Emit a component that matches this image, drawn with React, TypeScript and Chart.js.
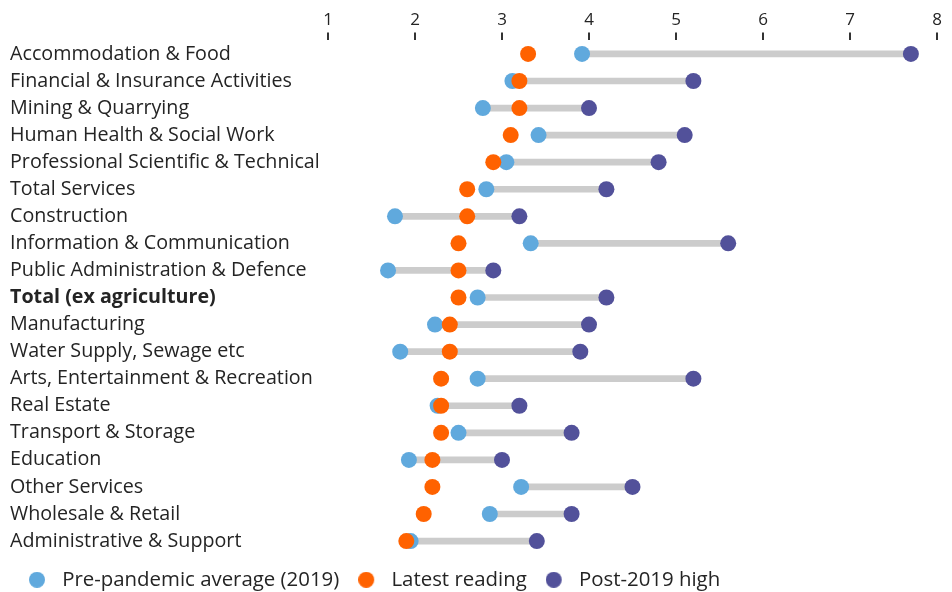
import React, { useEffect, useRef } from "react";
import { Chart, registerables } from "chart.js";

Chart.register(...registerables);

// Sectors, ordered by latest reading
const categories = [
  "Accommodation & Food",
  "Financial & Insurance Activities",
  "Mining & Quarrying",
  "Human Health & Social Work",
  "Professional Scientific & Technical",
  "Total Services",
  "Construction",
  "Information & Communication",
  "Public Administration & Defence",
  "Total (ex agriculture)",
  "Manufacturing",
  "Water Supply, Sewage etc",
  "Arts, Entertainment & Recreation",
  "Real Estate",
  "Transport & Storage",
  "Education",
  "Other Services",
  "Wholesale & Retail",
  "Administrative & Support",
];

const preAverage = [
  3.92, 3.12, 2.78, 3.42, 3.05, 2.82, 1.77, 3.33, 1.69, 2.72, 2.23, 1.83, 2.72,
  2.26, 2.5, 1.93, 3.22, 2.86, 1.95,
];

const latestReading = [
  3.3, 3.2, 3.2, 3.1, 2.9, 2.6, 2.6, 2.5, 2.5, 2.5, 2.4, 2.4, 2.3, 2.3, 2.3,
  2.2, 2.2, 2.1, 1.9,
];

const postHigh = [
  7.7, 5.2, 4.0, 5.1, 4.8, 4.2, 3.2, 5.6, 2.9, 4.2, 4.0, 3.9, 5.2, 3.2, 3.8,
  3.0, 4.5, 3.8, 3.4,
];

const seriesNames = ["Pre-pandemic average (2019)", "Latest reading", "Post-2019 high"];
const boldCategory = "Total (ex agriculture)";

const BLUE = "#60a9dd";
const ORANGE = "#ff6200";
const PURPLE = "#52519a";
const RANGE_GREY = "#cccccc";
const TEXT = "#242424";
const FONT = "'Open Sans', sans-serif";

// Legend swatch: a filled dot drawn slightly left of the image centre
function legendDot(color: string, r: number, shift: number): HTMLCanvasElement {
  const c = document.createElement("canvas");
  c.width = r * 2 + shift * 2;
  c.height = r * 2;
  const g = c.getContext("2d")!;
  g.fillStyle = color;
  g.beginPath();
  g.arc(r, r, r, 0, Math.PI * 2);
  g.fill();
  return c;
}

export default function App() {
  const canvasRef = useRef<HTMLCanvasElement | null>(null);

  useEffect(() => {
    if (!canvasRef.current) return;
    const seriesColors = [BLUE, ORANGE, PURPLE];
    const dots = seriesColors.map((c) => legendDot(c, 8, 1.5));

    const pointSet = (label: string, data: number[], color: string, order: number) => ({
      type: "line" as const,
      label,
      data,
      indexAxis: "y" as const,
      showLine: false,
      pointRadius: 8,
      pointHoverRadius: 8,
      pointBackgroundColor: color,
      pointBorderWidth: 0,
      backgroundColor: color,
      borderColor: color,
      order,
      clip: false as const,
    });

    const chart = new Chart(canvasRef.current, {
      type: "bar",
      data: {
        labels: categories,
        datasets: [
          pointSet(seriesNames[0], preAverage, BLUE, 3),
          pointSet(seriesNames[1], latestReading, ORANGE, 1),
          pointSet(seriesNames[2], postHigh, PURPLE, 2),
          {
            type: "bar",
            label: "range",
            data: categories.map((_, i) => [preAverage[i], postHigh[i]]) as any,
            backgroundColor: RANGE_GREY,
            barThickness: 6,
            borderSkipped: false,
            order: 4,
          } as any,
        ],
      },
      options: {
        indexAxis: "y",
        animation: false,
        responsive: false,
        events: [],
        layout: { padding: { left: 10, right: 15, top: 8, bottom: -8 } },
        scales: {
          x: {
            type: "linear",
            position: "top",
            min: 1,
            max: 8,
            ticks: {
              stepSize: 1,
              color: TEXT,
              padding: 2,
              font: { family: FONT, size: 17 },
            },
            grid: {
              drawOnChartArea: false,
              drawTicks: true,
              tickLength: 8,
              color: "#333333",
              lineWidth: 2,
            },
            border: { display: false },
          },
          y: {
            type: "category",
            offset: true,
            grid: { display: false },
            border: { display: false },
            ticks: {
              autoSkip: false,
              crossAlign: "far",
              padding: 0,
              color: TEXT,
              font: (ctx: any) => ({
                family: FONT,
                size: 19.7,
                weight: ctx.tick && ctx.tick.label === boldCategory ? "bold" : "normal",
              }),
            },
            afterFit: (scale: any) => {
              scale.width = 318;
            },
          },
        },
        plugins: {
          tooltip: { enabled: false },
          legend: {
            position: "bottom",
            align: "start",
            labels: {
              usePointStyle: true,
              pointStyleWidth: 27,
              padding: 15,
              color: TEXT,
              font: { family: FONT, size: 20.4 },
              generateLabels: () =>
                seriesNames.map((text, i) => ({
                  text,
                  fillStyle: seriesColors[i],
                  strokeStyle: seriesColors[i],
                  lineWidth: 0,
                  pointStyle: dots[i],
                  hidden: false,
                  datasetIndex: i,
                  fontColor: TEXT,
                })),
            },
          },
        },
      },
    } as any);

    return () => chart.destroy();
  }, []);

  return (
    <div style={{ position: "absolute", left: 0, top: 0, width: 952, height: 592, background: "#ffffff" }}>
      <canvas ref={canvasRef} width={952} height={592} style={{ display: "block" }} />
    </div>
  );
}
